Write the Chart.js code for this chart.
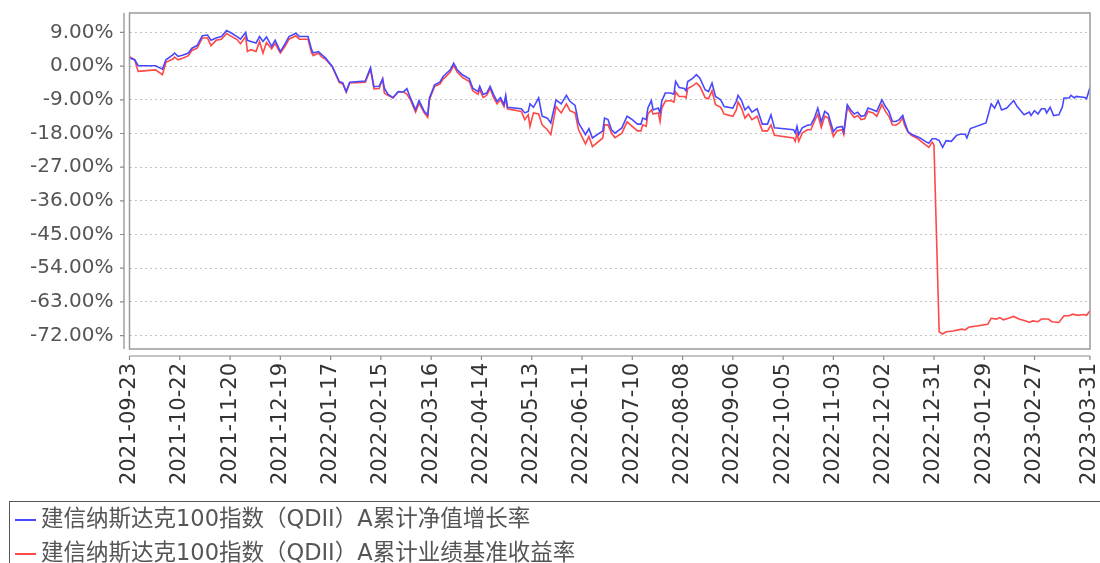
<!DOCTYPE html>
<html>
<head>
<meta charset="utf-8">
<script src="https://cdn.jsdelivr.net/npm/chart.js@4"></script>
<style>
    body { margin: 0; background: #fff; }
    #contenedor { position: relative; width: 1100px; height: 563px; overflow: hidden; }
    #leyenda {
        position: absolute; left: 9px; top: 501px; width: 1100px; height: 80px;
        border: 1px solid #555; box-sizing: border-box;
        font-family: "DejaVu Sans", "Noto Sans CJK SC", sans-serif; font-size: 22.5px; color: #555;
    }
    #leyenda .item { position: absolute; left: 0; height: 32px; line-height: 32px; white-space: nowrap; }
    #leyenda .muestra { display: inline-block; width: 21px; height: 2px; vertical-align: middle; margin: 0 5px 0 5px; }
</style>
</head>
<body>
<div id="contenedor">
    <canvas id="grafico" width="1100" height="563"></canvas>
    <div id="leyenda">
        <div class="item" style="top:0px"><span class="muestra" style="background:#4848ff"></span>建信纳斯达克100指数（QDII）A累计净值增长率</div>
        <div class="item" style="top:34px"><span class="muestra" style="background:#ff4848"></span>建信纳斯达克100指数（QDII）A累计业绩基准收益率</div>
    </div>
</div>
<script>
// dias desde 2021-09-23
const diasNav = [0, 3, 5, 15, 19, 21, 25, 26, 28, 31, 34, 36, 39, 42, 45, 47, 50, 53, 56, 59, 62, 64, 67, 68, 70, 73, 75, 77, 79, 82, 84, 87, 90, 92, 96, 98, 103, 105, 106, 109, 111, 113, 117, 121, 123, 125, 127, 136, 139, 141, 144, 146, 147, 149, 152, 155, 158, 160, 162, 165, 167, 170, 172, 173, 176, 179, 181, 182, 185, 187, 189, 192, 196, 198, 201, 202, 204, 206, 208, 210, 212, 214, 216, 217, 218, 226, 228, 230, 231, 233, 236, 238, 241, 243, 246, 249, 252, 254, 257, 259, 263, 265, 267, 273, 274, 276, 278, 280, 284, 287, 290, 293, 295, 296, 298, 299, 301, 302, 305, 306, 307, 309, 312, 314, 315, 317, 320, 321, 322, 325, 327, 329, 332, 334, 336, 338, 341, 343, 348, 350, 351, 353, 355, 357, 359, 362, 365, 368, 370, 372, 383, 384, 385, 386, 388, 391, 393, 395, 397, 399, 401, 403, 406, 408, 411, 412, 414, 416, 418, 420, 422, 424, 426, 429, 431, 434, 436, 438, 440, 442, 444, 446, 447, 449, 451, 454, 456, 459, 461, 463, 465, 467, 469, 471, 474, 477, 479, 482, 483, 485, 494, 497, 499, 501, 503, 506, 510, 512, 516, 519, 520, 522, 524, 526, 528, 529, 531, 533, 536, 538, 539, 542, 543, 545, 546, 551, 552, 554];
const valoresNav = [2.2, 1.7, 0.1, 0.1, -0.8, 1.7, 3.0, 3.5, 2.6, 3.0, 3.5, 4.8, 5.5, 8.1, 8.3, 6.9, 7.5, 7.9, 9.5, 8.8, 7.9, 7.2, 9.0, 6.9, 6.6, 6.2, 7.9, 6.6, 7.8, 5.3, 6.9, 3.9, 6.2, 7.9, 8.8, 7.9, 7.9, 4.4, 3.5, 3.9, 3.0, 2.2, -0.1, -4.1, -4.5, -6.8, -4.3, -4.0, -0.4, -5.5, -5.4, -3.4, -5.9, -7.5, -8.4, -6.8, -6.9, -6.0, -8.5, -11.7, -9.2, -12.1, -13.0, -8.5, -5.0, -4.3, -2.7, -2.3, -1.0, 0.8, -1.0, -2.3, -3.4, -5.9, -6.8, -5.4, -7.6, -7.2, -5.4, -7.6, -9.4, -8.4, -10.3, -7.8, -11.0, -11.4, -12.5, -12.1, -10.1, -11.0, -8.5, -13.4, -13.9, -15.2, -9.0, -10.1, -7.8, -9.4, -10.5, -15.2, -18.3, -16.7, -19.2, -17.3, -13.9, -14.3, -17.0, -17.9, -16.5, -13.4, -14.3, -15.5, -15.5, -13.9, -14.3, -11.2, -9.2, -11.7, -11.2, -12.5, -9.4, -7.2, -7.2, -7.5, -4.1, -5.7, -6.0, -6.6, -4.1, -3.2, -2.3, -3.2, -6.3, -6.8, -4.5, -8.1, -9.0, -10.8, -11.2, -9.4, -7.8, -9.2, -11.7, -10.8, -12.3, -11.4, -15.5, -15.5, -13.0, -16.5, -17.0, -17.9, -16.1, -18.3, -16.5, -15.8, -15.7, -13.9, -11.2, -14.9, -12.1, -12.8, -17.5, -16.4, -16.1, -17.5, -10.3, -11.7, -12.8, -12.3, -13.4, -13.2, -11.2, -11.7, -12.1, -9.0, -10.8, -12.1, -14.8, -14.8, -14.3, -13.2, -14.8, -17.5, -18.2, -18.8, -19.2, -20.1, -20.6, -19.4, -19.4, -19.9, -21.7, -19.9, -20.1, -18.5, -18.2, -18.2, -19.2, -16.7, -15.2, -10.1, -11.2, -9.2, -11.7, -11.2, -9.2, -10.8, -13.0, -12.3, -13.2, -11.9, -12.8, -11.4, -11.4, -12.5, -11.0, -13.2, -13.0, -11.0, -8.5, -8.5, -7.8, -8.5, -8.1, -8.4, -8.7, -5.7];

const diasBase = [0, 3, 5, 15, 19, 21, 25, 26, 28, 31, 34, 36, 39, 42, 45, 47, 50, 53, 56, 59, 62, 64, 67, 68, 70, 73, 75, 77, 79, 82, 84, 87, 90, 92, 96, 98, 103, 105, 106, 109, 111, 113, 117, 121, 123, 125, 127, 136, 139, 141, 144, 146, 147, 149, 152, 155, 158, 160, 162, 165, 167, 170, 172, 173, 176, 179, 181, 182, 185, 187, 189, 192, 196, 198, 201, 202, 204, 206, 208, 210, 212, 214, 216, 217, 218, 226, 228, 230, 231, 233, 236, 238, 241, 243, 246, 249, 252, 254, 257, 259, 263, 265, 267, 273, 274, 276, 278, 280, 284, 287, 290, 293, 295, 296, 298, 299, 301, 302, 305, 306, 307, 309, 312, 314, 315, 317, 320, 321, 322, 325, 327, 329, 332, 334, 336, 338, 341, 343, 348, 350, 351, 353, 355, 357, 359, 362, 365, 368, 370, 372, 383, 384, 385, 386, 388, 391, 393, 395, 397, 399, 401, 403, 406, 408, 411, 412, 414, 416, 418, 420, 422, 424, 426, 429, 431, 434, 436, 438, 440, 442, 444, 446, 447, 449, 451, 454, 456, 459, 461, 463, 464, 467, 469, 471, 475, 480, 482, 484, 495, 497, 500, 502, 504, 507, 510, 513, 517, 519, 521, 524, 526, 530, 532, 536, 539, 542, 544, 547, 550, 552, 554];
const valoresBase = [2.5, 1.7, -1.4, -1.0, -2.3, 1.0, 1.9, 2.4, 1.7, 2.2, 2.8, 4.2, 4.8, 7.5, 7.5, 5.5, 6.9, 7.2, 8.7, 7.9, 7.1, 6.0, 7.9, 3.9, 4.4, 3.9, 6.6, 3.5, 6.3, 4.6, 6.0, 3.5, 5.5, 7.2, 8.1, 7.2, 7.2, 3.5, 2.8, 3.5, 2.4, 1.9, -0.2, -4.4, -4.7, -7.0, -4.5, -4.3, -0.8, -6.1, -6.0, -3.4, -7.2, -7.8, -8.5, -6.9, -6.9, -7.5, -9.0, -12.3, -9.9, -12.5, -13.7, -9.0, -5.4, -4.8, -3.4, -3.0, -1.6, 0.2, -1.6, -3.0, -4.1, -6.6, -7.5, -6.3, -8.4, -7.8, -6.0, -8.4, -10.1, -9.0, -10.8, -8.4, -11.4, -12.1, -14.3, -13.0, -16.1, -12.5, -12.8, -15.7, -17.0, -18.3, -10.8, -12.5, -10.1, -11.9, -12.5, -17.0, -20.8, -18.8, -21.5, -19.2, -15.7, -15.7, -17.9, -19.1, -17.9, -14.9, -16.1, -17.3, -17.3, -15.7, -16.1, -12.8, -11.7, -12.8, -12.5, -14.8, -11.2, -9.4, -9.2, -9.6, -6.9, -8.1, -8.1, -8.5, -6.0, -5.2, -4.5, -5.4, -8.4, -8.7, -6.6, -10.3, -11.0, -12.8, -13.4, -11.7, -9.6, -11.2, -13.9, -12.8, -14.3, -13.4, -17.3, -17.3, -15.7, -18.5, -19.2, -20.1, -17.9, -20.1, -17.9, -17.0, -17.0, -14.8, -12.8, -16.4, -13.4, -13.9, -18.8, -17.3, -17.0, -18.3, -11.0, -12.5, -13.7, -13.2, -14.3, -14.1, -12.1, -12.5, -13.4, -10.3, -12.1, -13.4, -15.7, -15.8, -15.2, -13.9, -15.7, -17.6, -18.5, -19.2, -19.9, -21.0, -21.7, -20.3, -21.0, -71.0, -71.6, -71.0, -70.8, -70.3, -70.5, -69.8, -69.0, -67.4, -67.6, -67.2, -67.8, -67.4, -66.9, -67.6, -68.1, -68.5, -68.1, -68.3, -67.6, -67.6, -68.3, -68.5, -66.7, -66.7, -66.3, -66.6, -66.4, -66.6, -65.4];

const diasTicks = [0, 29, 58, 87, 116, 145, 174, 203, 232, 261, 290, 319, 348, 377, 406, 435, 464, 493, 522, 554];
const etiquetasX = ["2021-09-23", "2021-10-22", "2021-11-20", "2021-12-19", "2022-01-17", "2022-02-15", "2022-03-16", "2022-04-14", "2022-05-13", "2022-06-11", "2022-07-10", "2022-08-08", "2022-09-06", "2022-10-05", "2022-11-03", "2022-12-02", "2022-12-31", "2023-01-29", "2023-02-27", "2023-03-31"];
const ticksY = [9, 0, -9, -18, -27, -36, -45, -54, -63, -72];

const nombreNav = "建信纳斯达克100指数（QDII）A累计净值增长率";
const nombreBase = "建信纳斯达克100指数（QDII）A累计业绩基准收益率";

// Marco del area y ejes separados (estilo jfreechart)
const marcoEjes = {
    id: "marcoEjes",
    afterDatasetsDraw(chart) {
        const { ctx, chartArea: a, scales: { x, y } } = chart;
        ctx.save();
        ctx.strokeStyle = "#9a9a9a";
        ctx.lineWidth = 1.5;
        ctx.strokeRect(a.left, a.top, a.right - a.left, a.bottom - a.top);

        ctx.strokeStyle = "#8a8a8a";
        ctx.lineWidth = 1.2;
        ctx.beginPath();
        const ax = a.left - 5.5;
        ctx.moveTo(ax, a.top);
        ctx.lineTo(ax, a.bottom);
        y.ticks.forEach(t => {
            const p = y.getPixelForValue(t.value);
            ctx.moveTo(ax - 4, p);
            ctx.lineTo(ax, p);
        });
        const ay = a.bottom + 7;
        ctx.moveTo(a.left, ay);
        ctx.lineTo(a.right, ay);
        x.ticks.forEach(t => {
            const p = x.getPixelForValue(t.value);
            ctx.moveTo(p, ay);
            ctx.lineTo(p, ay + 4);
        });
        ctx.stroke();
        ctx.restore();
    }
};

function puntos(dias, valores) {
    return dias.map((d, i) => ({ x: d, y: valores[i] }));
}

const ctx = document.getElementById("grafico").getContext("2d");

new Chart(ctx, {
    type: "line",
    data: {
        datasets: [
            {
                label: nombreNav,
                data: puntos(diasNav, valoresNav),
                borderColor: "#4848ff",
                borderWidth: 1.6,
                pointRadius: 0,
                tension: 0
            },
            {
                label: nombreBase,
                data: puntos(diasBase, valoresBase),
                borderColor: "#ff4848",
                borderWidth: 1.6,
                pointRadius: 0,
                tension: 0
            }
        ]
    },
    options: {
        responsive: false,
        animation: false,
        layout: { padding: { top: 13, right: 10, left: 0, bottom: 0 } },
        plugins: {
            legend: { display: false },
            tooltip: { enabled: false }
        },
        scales: {
            x: {
                type: "linear",
                min: 0,
                max: 554,
                afterBuildTicks: scale => {
                    scale.ticks = diasTicks.map(v => ({ value: v }));
                },
                afterFit: scale => {
                    scale.height = 214;
                    scale.paddingLeft = 0;
                    scale.paddingRight = 0;
                },
                ticks: {
                    autoSkip: false,
                    minRotation: 90,
                    maxRotation: 90,
                    padding: 14,
                    color: "#333",
                    font: { family: "DejaVu Sans", size: 21 },
                    callback: (v, i) => etiquetasX[i]
                },
                grid: { display: false, drawTicks: false },
                border: { display: false }
            },
            y: {
                min: -75.6,
                max: 14.2,
                afterBuildTicks: scale => {
                    scale.ticks = ticksY.map(v => ({ value: v }));
                },
                afterFit: scale => {
                    scale.width = 129.5;
                    scale.paddingTop = 0;
                    scale.paddingBottom = 0;
                },
                ticks: {
                    padding: 16,
                    color: "#555",
                    font: { family: "DejaVu Sans", size: 20 },
                    callback: v => v.toFixed(2) + "%"
                },
                grid: { color: "#c4c4c4", lineWidth: 1, drawTicks: false },
                border: { display: false, dash: [2, 3] }
            }
        }
    },
    plugins: [marcoEjes]
});
</script>
</body>
</html>
